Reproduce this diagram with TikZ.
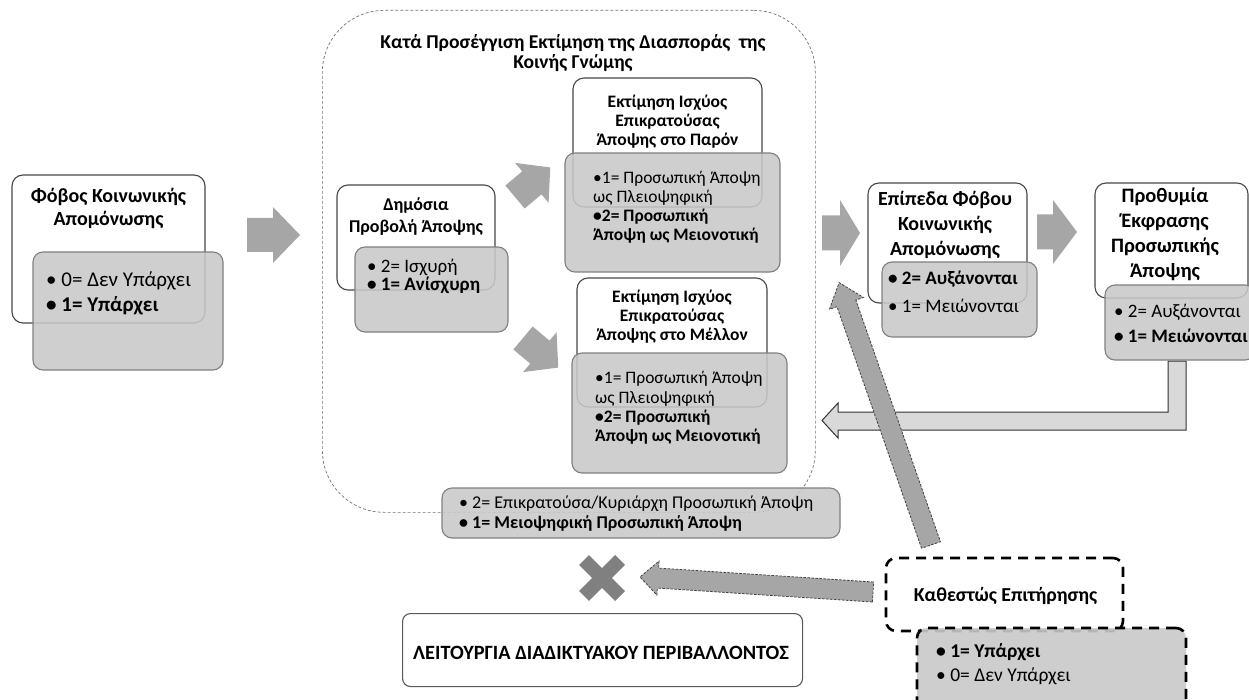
\documentclass[tikz,border=0pt]{standalone}
\usepackage{fontspec}
\setmainfont{Carlito}
\usetikzlibrary{calc}
\newcommand{\fsz}[2]{\fontsize{#1}{#2}\selectfont}
\newcommand{\tp}{\rule{0pt}{30pt}}
\newcommand{\blkarrow}[7]{%
  \begin{scope}[shift={#2}, rotate=#3]
    \path[#1] (0,-#5) -- ({#4-#7},-#5) -- ({#4-#7},-#6) -- (#4,0) -- ({#4-#7},#6) -- ({#4-#7},#5) -- (0,#5) -- cycle;
  \end{scope}}
\tikzset{
  wbox/.style={draw=black!72, line width=1.1pt, fill=white, rounded corners=11pt, inner sep=0pt, outer sep=0pt, anchor=north west},
  gbox/.style={draw=black!50, line width=1.1pt, fill=black!21, fill opacity=0.87, rounded corners=10pt, inner sep=0pt, outer sep=0pt, anchor=north west},
  kbox/.style={draw=black, line width=2.6pt, dash pattern=on 10pt off 7pt, rounded corners=10pt, inner sep=0pt, outer sep=0pt, anchor=north west},
  ttl/.style={align=center, inner sep=0pt, anchor=north},
  lst/.style={align=left, inner sep=0pt, anchor=north west},
  bigarrow/.style={fill=black!35},
  dasharrow/.style={fill=black!35, draw=black!75, line width=0.8pt, dash pattern=on 2.5pt off 1.5pt},
  backarrow/.style={fill=black!15, draw=black!80, line width=1pt},
}
\begin{document}
\begin{tikzpicture}[x=1pt, y=-1pt]
\useasboundingbox[fill=white] (0,0) rectangle (1249,700);

% container
\node[draw=black!55, line width=0.7pt, dash pattern=on 3pt off 2pt, rounded corners=62pt, minimum width=493pt, minimum height=502pt, inner sep=0pt, anchor=north west] (cont) at (322,10) {};
\node[ttl, font=\fsz{19.6}{20}\bfseries] (contT) at (573,18.5) {\tp Κατά Προσέγγιση Εκτίμηση της Διασποράς\ \ της\\Κοινής Γνώμης};

% left box
\node[wbox, minimum width=193pt, minimum height=148pt] (fobos) at (12,175) {};
\node[gbox, minimum width=190pt, minimum height=118pt] (fobosG) at (33,252) {};
\node[ttl, font=\fsz{20}{23}\bfseries] (fobosT) at (108.5,172.5) {\tp Φόβος Κοινωνικής\\Απομόνωσης};
\node[lst, font=\fsz{21}{25}] (fobosL) at (46,256) {\tp • 0= Δεν Υπάρχει\\\textbf{• 1= Υπάρχει}};

% arrow 1
\blkarrow{bigarrow}{(247,235)}{0}{53}{17}{28}{27}

% Dimosia
\node[wbox, minimum width=158pt, minimum height=105pt] (dim) at (337,185) {};
\node[gbox, minimum width=153pt, minimum height=85pt] (dimG) at (355,247) {};
\node[ttl, font=\fsz{18}{22}\bfseries] (dimT) at (416,180.5) {\tp Δημόσια\\Προβολή Άποψης};
\node[lst, font=\fsz{19}{18.5}] (dimL) at (367,242) {\tp • 2= Ισχυρή\\\textbf{• 1= Ανίσχυρη}};

% diagonal arrows
\blkarrow{bigarrow}{(515,197)}{40}{46}{15}{26}{24}
\blkarrow{bigarrow}{(523,338)}{-40}{46}{15}{26}{24}

% Paron
\node[wbox, minimum width=189pt, minimum height=129pt] (par) at (573,78) {};
\node[gbox, minimum width=215pt, minimum height=119pt] (parG) at (565,153) {};
\node[ttl, font=\fsz{17.5}{19.3}\bfseries] (parT) at (667.5,77) {\tp Εκτίμηση Ισχύος\\Επικρατούσας\\Άποψης στο Παρόν};
\node[lst, font=\fsz{17.5}{19}] (parL) at (593,153.5) {\tp •1= Προσωπική Άποψη\\ως Πλειοψηφική\\\textbf{•2= Προσωπική}\\\textbf{Άποψη ως Μειονοτική}};

% Mellon
\node[wbox, minimum width=190pt, minimum height=129pt] (mel) at (577,278) {};
\node[gbox, minimum width=215pt, minimum height=120pt] (melG) at (572,353) {};
\node[ttl, font=\fsz{17.5}{19.3}\bfseries] (melT) at (672,272) {\tp Εκτίμηση Ισχύος\\Επικρατούσας\\Άποψης στο Μέλλον};
\node[lst, font=\fsz{17.5}{19.3}] (melL) at (595,353.5) {\tp •1= Προσωπική Άποψη\\ως Πλειοψηφική\\\textbf{•2= Προσωπική}\\\textbf{Άποψη ως Μειονοτική}};

% bottom list of container
\node[gbox, minimum width=398pt, minimum height=50pt] (contG) at (442,488) {};
\node[lst, font=\fsz{18}{20}] (contL) at (459,478.5) {\tp • 2= Επικρατούσα/Κυριάρχη Προσωπική Άποψη\\\textbf{• 1= Μειοψηφική Προσωπική Άποψη}};

% arrow 2
\blkarrow{bigarrow}{(822,233)}{0}{38}{17.5}{33}{20}

% Epipeda
\node[wbox, minimum width=159pt, minimum height=120pt] (epi) at (868,183) {};
\node[gbox, minimum width=155pt, minimum height=75pt] (epiG) at (882,262) {};
\node[ttl, font=\fsz{20}{25}\bfseries] (epiT) at (945,175.5) {\tp Επίπεδα Φόβου\\Κοινωνικής\\Απομόνωσης};
\node[lst, font=\fsz{19}{28}] (epiL) at (888,254) {\tp \textbf{• 2= Αυξάνονται}\\• 1= Μειώνονται};

% arrow 3
\blkarrow{bigarrow}{(1037,232)}{0}{40}{17.5}{32}{24}

% feedback arrow
\path[backarrow] (1168,361) -- (1168,412) -- (838,412) -- (838,403) -- (822,420.5) -- (838,438) -- (838,430) -- (1186,430) -- (1186,361) -- cycle;

% Prothymia
\node[wbox, minimum width=153pt, minimum height=115pt] (pro) at (1095,183) {};
\node[gbox, minimum width=150pt, minimum height=75pt] (proG) at (1105,285) {};
\node[ttl, font=\fsz{20.5}{25}\bfseries] (proT) at (1165,172) {\tp Προθυμία\\Έκφρασης\\Προσωπικής\\Άποψης};
\node[lst, font=\fsz{19}{25}] (proL) at (1114,287) {\tp • 2= Αυξάνονται\\\textbf{• 1= Μειώνονται}};

% dashed arrows
\blkarrow{dasharrow}{(931,545)}{109.3}{278}{10}{18}{22}
\blkarrow{dasharrow}{(873,592)}{176.3}{233.5}{10}{17}{18}

% cross
\draw[line width=14pt, draw=black!50] (584,560) -- (620,596) (620,560) -- (584,596);

% Leitourgia
\node[draw=black!65, line width=1.1pt, rounded corners=8pt, fill=white, minimum width=400pt, minimum height=73pt, inner sep=0pt, anchor=north west] (leit) at (402,613) {};
\node[font=\fsz{20.3}{22}\bfseries, anchor=base, inner sep=0pt] (leitT) at (601,659) {ΛΕΙΤΟΥΡΓΙΑ ΔΙΑΔΙΚΤΥΑΚΟΥ ΠΕΡΙΒΑΛΛΟΝΤΟΣ};

% Kathestos
\node[kbox, fill=white, minimum width=237pt, minimum height=73pt] (kat) at (886,558) {};
\node[font=\fsz{19.8}{22}\bfseries, anchor=base, inner sep=0pt] (katT) at (1005.5,601.5) {Καθεστώς Επιτήρησης};
\node[kbox, fill=black!21, fill opacity=0.9, minimum width=269pt, minimum height=84pt] (katG) at (917,628) {};
\node[lst, font=\fsz{19.5}{24.5}] (katL) at (936,627) {\tp \textbf{• 1= Υπάρχει}\\• 0= Δεν Υπάρχει};
\end{tikzpicture}
\end{document}
